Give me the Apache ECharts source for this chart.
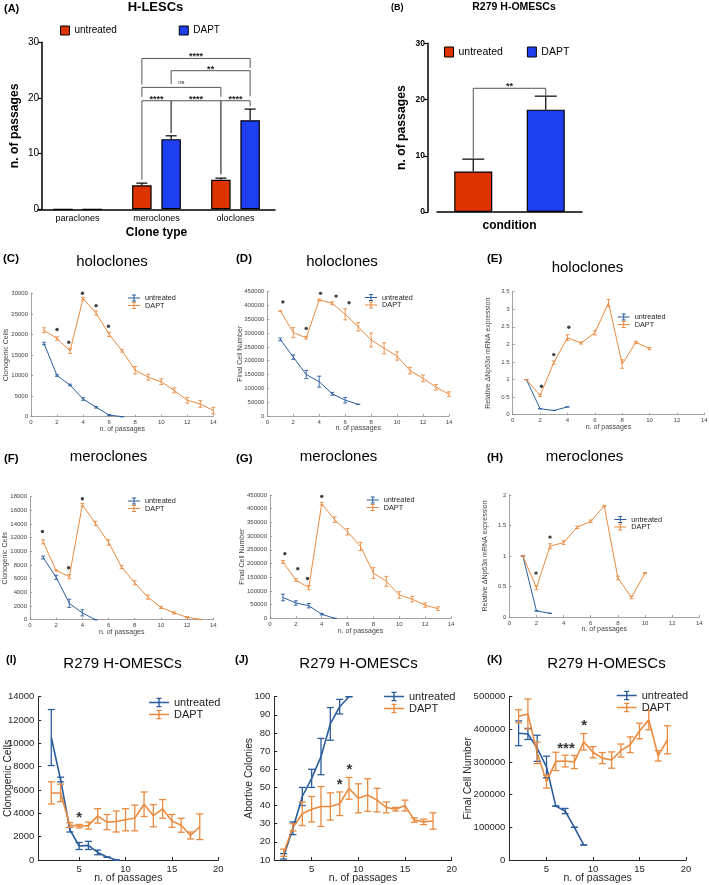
<!DOCTYPE html>
<html><head><meta charset="utf-8">
<script src="https://cdn.jsdelivr.net/npm/echarts@6/dist/echarts.min.js"></script>
<style>html,body{margin:0;padding:0;background:#fff}#c{width:709px;height:885px}</style>
</head><body><div id="c"></div>
<script>
// ================= DATA =================
// (A) H-LESCs
const A_categories = ['paraclones', 'meroclones', 'oloclones'];
const A_untreated = [0, 4.3, 5.3];
const A_untreated_err = [0, 0.4, 0.3];
const A_dapt = [0, 12.6, 16.0];
const A_dapt_err = [0, 0.6, 2.0];
// significance brackets: [category index, group (-1 untreated, +1 DAPT)]
const A_sig_from = [[1, -1], [1, 1], [1, -1], [1, -1], [1, 1], [2, -1]];
const A_sig_to = [[2, 1], [2, 1], [2, -1], [1, 1], [2, -1], [2, 1]];
const A_sig_level = [27.1, 24.9, 21.9, 19.5, 19.5, 19.5];
const A_sig_leg_from = [22.4, 22.5, 20.2, 5.3, 13.7, 6.3];
const A_sig_leg_to = [25.4, 20.3, 20.2, 13.7, 6.3, 18.5];
const A_sig_labels = ['****', '**', 'ns', '****', '****', '****'];

// (B) R279 H-OMESCs
const B_categories = ['untreated', 'DAPT'];
const B_values = [7.2, 18.2];
const B_err = [2.2, 2.4];
const B_sig_level = 22.0;
const B_sig_legs = [9.6, 20.7];
const B_sig_label = '**';

// (C) holoclones - clonogenic cells
const C_untreated_x = [1, 2, 3, 4, 5, 6, 7];
const C_untreated = [17800, 10000, 7700, 4300, 2300, 400, 0];
const C_untreated_err = [300, 200, 200, 300, 200, 100, 0];
const C_dapt_x = [1, 2, 3, 4, 5, 6, 7, 8, 9, 10, 11, 12, 13, 14];
const C_dapt = [21000, 19000, 16000, 28700, 25200, 20000, 16000, 11300, 9600, 8500, 6400, 4000, 3100, 1500];
const C_dapt_err = [600, 400, 600, 300, 500, 500, 300, 900, 700, 700, 600, 700, 800, 800];
const C_star_x = [2, 2.9, 3.95, 5, 5.95];
const C_star_y = [21200, 18100, 30000, 27000, 22000];

// (D) holoclones - final cell number
const D_untreated_x = [1, 2, 3, 4, 5, 6, 7];
const D_untreated = [277000, 213000, 150000, 124000, 80000, 57000, 42000];
const D_untreated_err = [5000, 8000, 15000, 20000, 5000, 10000, 0];
const D_dapt_x = [1, 2, 3, 4, 5, 6, 7, 8, 9, 10, 11, 12, 13, 14];
const D_dapt = [380000, 302000, 283000, 420000, 408000, 368000, 323000, 275000, 245000, 217000, 164000, 136000, 104000, 79000];
const D_dapt_err = [0, 18000, 5000, 3000, 5000, 20000, 15000, 25000, 20000, 15000, 12000, 12000, 10000, 8000];
const D_star_x = [1.2, 3, 4.1, 5.3, 6.3];
const D_star_y = [413000, 317000, 444000, 434000, 410000];

// (E) holoclones - relative dNp63a expression
const E_untreated_x = [1, 2, 3, 4];
const E_untreated = [1, 0.17, 0.12, 0.22];
const E_untreated_err = [0, 0, 0, 0];
const E_dapt_x = [1, 2, 3, 4, 5, 6, 7, 8, 9, 10];
const E_dapt = [1, 0.55, 1.48, 2.19, 2.04, 2.33, 3.18, 1.44, 2.06, 1.88];
const E_dapt_err = [0, 0.03, 0.05, 0.08, 0.03, 0.06, 0.1, 0.12, 0.03, 0.03];
const E_star_x = [2.1, 3.0, 4.1];
const E_star_y = [0.81, 1.71, 2.49];

// (F) meroclones - clonogenic cells
const F_untreated_x = [1, 2, 3, 4, 5];
const F_untreated = [9100, 6200, 2400, 1000, 0];
const F_untreated_err = [200, 300, 600, 450, 0];
const F_dapt_x = [1, 2, 3, 4, 5, 6, 7, 8, 9, 10, 11, 12, 13];
const F_dapt = [11400, 7200, 6300, 16800, 14100, 11300, 7700, 5400, 3300, 1800, 1000, 350, 50];
const F_dapt_err = [300, 100, 300, 200, 300, 400, 200, 300, 300, 150, 150, 100, 0];
const F_star_x = [0.95, 2.95, 4];
const F_star_y = [12900, 7600, 17700];

// (G) meroclones - final cell number
const G_untreated_x = [1, 2, 3, 4, 5];
const G_untreated = [76000, 56000, 46000, 15000, 0];
const G_untreated_err = [12000, 8000, 8000, 3000, 0];
const G_dapt_x = [1, 2, 3, 4, 5, 6, 7, 8, 9, 10, 11, 12, 13];
const G_dapt = [206000, 140000, 112000, 418000, 360000, 316000, 262000, 165000, 135000, 85000, 70000, 48000, 35000];
const G_dapt_err = [5000, 5000, 8000, 5000, 10000, 12000, 15000, 20000, 18000, 12000, 10000, 8000, 7000];
const G_star_x = [1.15, 2.15, 2.9, 4.0];
const G_star_y = [236000, 181000, 145000, 445000];

// (H) meroclones - relative dNp63a expression
const H_untreated_x = [1, 2, 3];
const H_untreated = [1, 0.1, 0.06];
const H_untreated_err = [0, 0, 0];
const H_dapt_x = [1, 2, 3, 4, 5, 6, 7, 8, 9, 10];
const H_dapt = [1, 0.48, 1.16, 1.22, 1.47, 1.57, 1.82, 0.64, 0.32, 0.72];
const H_dapt_err = [0, 0.03, 0.04, 0.03, 0.02, 0.02, 0.01, 0.03, 0.02, 0.01];
const H_star_x = [1.97, 3.0];
const H_star_y = [0.72, 1.31];

// (I) R279 H-OMESCs - clonogenic cells
const I_untreated_x = [2, 3, 4, 5, 6, 7, 8, 9];
const I_untreated = [10500, 6900, 2600, 1200, 1250, 650, 250, 0];
const I_untreated_err = [2400, 200, 200, 300, 350, 200, 0, 0];
const I_dapt_x = [2, 3, 4, 5, 6, 7, 8, 9, 10, 11, 12, 13, 14, 15, 16, 17, 18];
const I_dapt = [5750, 5750, 3000, 2900, 2950, 3780, 3250, 3300, 3450, 3600, 4780, 3800, 4380, 3350, 2980, 2100, 2850];
const I_dapt_err = [950, 750, 200, 150, 300, 620, 650, 900, 950, 1100, 1050, 950, 800, 550, 600, 300, 1100];
const I_star_x = [5];
const I_star_y = [3940];
const I_star_text = ['*'];

// (J) R279 H-OMESCs - abortive colonies
const J_untreated_x = [2, 3, 4, 5, 6, 7, 8, 9];
const J_untreated = [12, 27.5, 45, 55, 67, 85, 94.5, 100];
const J_untreated_err = [1.5, 3.5, 5, 5, 10, 9, 4, 0];
const J_dapt_x = [2, 3, 4, 5, 6, 7, 8, 9, 10, 11, 12, 13, 14, 15, 16, 17, 18];
const J_dapt = [14, 28, 35.5, 38, 39.5, 39.5, 41, 49.5, 44, 45.8, 43, 39, 38, 40, 32, 31, 31.5];
const J_dapt_err = [2, 2, 6.5, 7, 11, 7.5, 6.5, 6, 8, 9, 6.5, 3, 1, 3, 1.2, 1.5, 4.5];
const J_star_x = [8, 9.05];
const J_star_y = [53.5, 61.8];
const J_star_text = ['*', '*'];

// (K) R279 H-OMESCs - final cell number
const K_untreated_x = [2, 3, 4, 5, 6, 7, 8, 9];
const K_untreated = [388000, 386000, 342000, 285000, 165000, 150000, 100000, 46000];
const K_untreated_err = [38000, 17000, 40000, 33000, 0, 8000, 0, 0];
const K_dapt_x = [2, 3, 4, 5, 6, 7, 8, 9, 10, 11, 12, 13, 14, 15, 16, 17, 18];
const K_dapt = [440000, 447000, 328000, 240000, 302000, 303000, 300000, 362000, 330000, 312000, 306000, 335000, 353000, 395000, 429000, 319000, 368000];
const K_dapt_err = [20000, 46000, 33000, 20000, 28000, 18000, 20000, 25000, 17000, 17000, 25000, 20000, 24000, 24000, 30000, 16000, 43000];
const K_star_x = [7.1, 9.05];
const K_star_y = [352000, 423000];
const K_star_text = ['***', '*'];

const passageTicks = [5, 10, 15, 20];

// ================= STYLE =================
const FONT = '"Liberation Sans", Arial, Helvetica, sans-serif';
const BAR_RED = '#dd3300', BAR_BLUE = '#1d3ff0';
const L_BLUE = '#2b5d9c', L_ORANGE = '#ea8a3f';
const ICON_S = 'path://M0,3h12v1h-12z M5.5,0h1v7h-1z M4,0h4v1h-4z M4,6h4v1h-4z';
const ICON_L = 'path://M0,4h20v1.4h-20z M9.3,0h1.4v9.4h-1.4z M7.5,0h5v1.2h-5z M7.5,8.2h5v1.2h-5z';
const plainNum = v => String(Math.round(v * 1000) / 1000);

const grid = [], xAxis = [], yAxis = [], series = [], legend = [], title = [];

function T(text, x, y, size, weight, align) {
  title.push({ text, left: x, top: y, padding: 0, textAlign: align || 'left',
    textStyle: { fontFamily: FONT, fontSize: size, fontWeight: weight || 'normal', color: '#000' } });
}

// error bar renderer for line panels
function errRender(cap, lw) {
  return function (params, api) {
    const x = api.value(0), y = api.value(1), e = api.value(2);
    const lo = api.coord([x, y - e]), hi = api.coord([x, y + e]);
    const st = { stroke: api.visual('color'), lineWidth: lw };
    return { type: 'group', children: [
      { type: 'line', shape: { x1: lo[0], y1: lo[1], x2: hi[0], y2: hi[1] }, style: st },
      { type: 'line', shape: { x1: lo[0] - cap, y1: lo[1], x2: lo[0] + cap, y2: lo[1] }, style: st },
      { type: 'line', shape: { x1: hi[0] - cap, y1: hi[1], x2: hi[0] + cap, y2: hi[1] }, style: st }
    ] };
  };
}
// upward error bar for bar charts (offset = horizontal shift of the bar within its category)
function barErrRender(offsetPx, cap) {
  return function (params, api) {
    const c = api.value(0), v = api.value(1), e = api.value(2);
    if (!v) return null;
    const p0 = api.coord([c, v]), p1 = api.coord([c, v + e]);
    const x = p0[0] + offsetPx;
    const st = { stroke: '#000', lineWidth: 1.2 };
    return { type: 'group', children: [
      { type: 'line', shape: { x1: x, y1: p0[1], x2: x, y2: p1[1] }, style: st },
      { type: 'line', shape: { x1: x - cap, y1: p1[1], x2: x + cap, y2: p1[1] }, style: st }
    ] };
  };
}
function bracketRender(labels, offsetPx) {
  return function (params, api) {
    const lc = api.value(0), ls = api.value(1), rc = api.value(2), rs = api.value(3);
    const lvl = api.value(4), lb = api.value(5), rb = api.value(6);
    const pl = api.coord([lc, lvl]), pr = api.coord([rc, lvl]);
    const xl = pl[0] + ls * offsetPx, xr = pr[0] + rs * offsetPx;
    const yl = api.coord([lc, lb])[1], yr = api.coord([rc, rb])[1], yt = pl[1];
    const lab = labels[params.dataIndex];
    const ns = lab === 'ns';
    return { type: 'group', children: [
      { type: 'polyline', shape: { points: [[xl, yl], [xl, yt], [xr, yt], [xr, yr]] },
        style: { stroke: '#555', lineWidth: 1, fill: null } },
      { type: 'text', style: { text: lab, x: (xl + xr) / 2, y: yt + (ns ? -2 : 3),
        align: 'center', verticalAlign: 'bottom', textAlign: 'center', textVerticalAlign: 'bottom',
        font: ns ? '6px ' + FONT : 'bold 9px ' + FONT, fill: '#222' } }
    ] };
  };
}

// ================= PANEL A =================
T('(A)', 4, 3, 11, 'bold');
T('H-LESCs', 155.5, 0.5, 13, 'bold', 'center');
grid.push({ left: 38, top: 42.3, width: 237, height: 167, outerBoundsMode: 'none' });
xAxis.push({ type: 'category', gridIndex: 0, data: A_categories,
  axisLine: { lineStyle: { color: '#000', width: 1.5 } },
  axisTick: { alignWithLabel: true, length: 4, lineStyle: { color: '#000', width: 1.2 } },
  axisLabel: { fontSize: 9, color: '#000', margin: 5, fontFamily: FONT },
  name: 'Clone type', nameLocation: 'middle', nameGap: 17, nameMoveOverlap: false,
  nameTextStyle: { fontSize: 12, fontWeight: 'bold', color: '#000', fontFamily: FONT } });
yAxis.push({ type: 'value', gridIndex: 0, min: 0, max: 30, interval: 10, offset: -4,
  axisLine: { show: true, lineStyle: { color: '#000', width: 1.5 } },
  axisTick: { show: true, length: 4, lineStyle: { color: '#000', width: 1.2 } },
  axisLabel: { fontSize: 10, color: '#000', margin: 3, fontFamily: FONT, formatter: plainNum },
  splitLine: { show: false },
  name: 'n. of passages', nameLocation: 'middle', nameGap: 21, nameMoveOverlap: false,
  nameTextStyle: { fontSize: 12.2, fontWeight: 'bold', color: '#000', fontFamily: FONT } });
const A_off = 14.625; // half of (bar width + gap)
series.push({ type: 'bar', name: 'untreated', xAxisIndex: 0, yAxisIndex: 0, data: A_untreated, barWidth: 19.5, barGap: '50%',
  itemStyle: { color: BAR_RED, borderColor: '#000', borderWidth: 1.2 } });
series.push({ type: 'bar', name: 'DAPT', xAxisIndex: 0, yAxisIndex: 0, data: A_dapt, barWidth: 19.5, barGap: '50%',
  itemStyle: { color: BAR_BLUE, borderColor: '#000', borderWidth: 1.2 } });
series.push({ type: 'custom', xAxisIndex: 0, yAxisIndex: 0, renderItem: barErrRender(-A_off, 5.5), encode: { x: 0, y: 1 },
  data: A_untreated.map((v, i) => [i, v, A_untreated_err[i]]), z: 5, silent: true });
series.push({ type: 'custom', xAxisIndex: 0, yAxisIndex: 0, renderItem: barErrRender(A_off, 5.5), encode: { x: 0, y: 1 },
  data: A_dapt.map((v, i) => [i, v, A_dapt_err[i]]), z: 5, silent: true });
series.push({ type: 'custom', xAxisIndex: 0, yAxisIndex: 0, renderItem: bracketRender(A_sig_labels, A_off), encode: { x: 0, y: 4 },
  data: A_sig_level.map((lv, i) => [A_sig_from[i][0], A_sig_from[i][1], A_sig_to[i][0], A_sig_to[i][1], lv, A_sig_leg_from[i], A_sig_leg_to[i]]),
  z: 6, silent: true });
legend.push({ left: 60, top: 25.5, orient: 'horizontal', itemWidth: 9, itemHeight: 9, itemGap: 62, padding: 0, selectedMode: false,
  textStyle: { fontFamily: FONT, fontSize: 10, color: '#000' },
  data: [{ name: 'untreated', icon: 'rect', itemStyle: { color: BAR_RED, borderColor: '#000', borderWidth: 1 } },
         { name: 'DAPT', icon: 'rect', itemStyle: { color: BAR_BLUE, borderColor: '#000', borderWidth: 1 } }] });

// ================= PANEL B =================
T('(B)', 391, 3.5, 9, 'bold');
T('R279 H-OMESCs', 514, 2, 10.5, 'bold', 'center');
grid.push({ left: 437, top: 43.3, width: 145, height: 168.7, outerBoundsMode: 'none' });
xAxis.push({ type: 'category', gridIndex: 1, data: B_categories,
  axisLine: { lineStyle: { color: '#000', width: 1.5 } }, axisTick: { show: false }, axisLabel: { show: false },
  name: 'condition', nameLocation: 'middle', nameGap: 8, nameMoveOverlap: false,
  nameTextStyle: { fontSize: 12, fontWeight: 'bold', color: '#000', fontFamily: FONT } });
yAxis.push({ type: 'value', gridIndex: 1, min: 0, max: 30, interval: 10, offset: 9,
  axisLine: { show: true, lineStyle: { color: '#000', width: 1.5 } },
  axisTick: { show: true, length: 4, lineStyle: { color: '#000', width: 1.2 } },
  axisLabel: { fontSize: 8.5, fontWeight: 'bold', color: '#000', margin: 3, fontFamily: FONT, formatter: plainNum },
  splitLine: { show: false },
  name: 'n. of passages', nameLocation: 'middle', nameGap: 20, nameMoveOverlap: false,
  nameTextStyle: { fontSize: 12.2, fontWeight: 'bold', color: '#000', fontFamily: FONT } });
series.push({ type: 'bar', name: 'untreated', xAxisIndex: 1, yAxisIndex: 1, data: [B_values[0], '-'], barWidth: 38, barGap: '-100%',
  itemStyle: { color: BAR_RED, borderColor: '#000', borderWidth: 1.2 } });
series.push({ type: 'bar', name: 'DAPT', xAxisIndex: 1, yAxisIndex: 1, data: ['-', B_values[1]], barWidth: 38, barGap: '-100%',
  itemStyle: { color: BAR_BLUE, borderColor: '#000', borderWidth: 1.2 } });
series.push({ type: 'custom', xAxisIndex: 1, yAxisIndex: 1, renderItem: barErrRender(0, 11), encode: { x: 0, y: 1 },
  data: B_values.map((v, i) => [i, v, B_err[i]]), z: 5, silent: true });
series.push({ type: 'custom', xAxisIndex: 1, yAxisIndex: 1, renderItem: bracketRender([B_sig_label], 0), encode: { x: 0, y: 4 },
  data: [[0, 0, 1, 0, B_sig_level, B_sig_legs[0], B_sig_legs[1]]], z: 6, silent: true });
legend.push({ left: 444, top: 46.5, orient: 'horizontal', itemWidth: 9, itemHeight: 10, itemGap: 24, padding: 0, selectedMode: false,
  textStyle: { fontFamily: FONT, fontSize: 10.5, color: '#000' },
  data: [{ name: 'untreated', icon: 'rect', itemStyle: { color: BAR_RED, borderColor: '#000', borderWidth: 1 } },
         { name: 'DAPT', icon: 'rect', itemStyle: { color: BAR_BLUE, borderColor: '#000', borderWidth: 1 } }] });

// ================= LINE PANELS =================
function linePanel(c) {
  const gi = grid.length;
  const big = !!c.big;
  grid.push({ left: c.left, top: c.top, width: c.width, height: c.height, outerBoundsMode: 'none' });
  const axCol = big ? '#262626' : '#8c8c8c';
  const lbCol = big ? '#262626' : '#444';
  const lbSize = big ? 9.5 : 6;
  const xa = { type: 'value', gridIndex: gi, min: c.xMin, max: c.xMax,
    axisLine: { onZero: false, lineStyle: { color: axCol, width: big ? 1 : 0.8 } },
    axisTick: { show: true, inside: true, length: big ? 3 : 2, lineStyle: { color: axCol, width: big ? 1 : 0.8 } },
    axisLabel: { fontSize: lbSize, color: lbCol, margin: big ? 4 : 3, fontFamily: FONT, formatter: plainNum },
    splitLine: { show: false },
    name: 'n. of passages', nameLocation: 'middle', nameGap: big ? 13 : 9, nameMoveOverlap: false,
    nameTextStyle: { fontSize: big ? 10.5 : 7, color: lbCol, fontFamily: FONT } };
  if (c.xInterval) xa.interval = c.xInterval;
  if (c.xTicks) { xa.axisLabel.customValues = c.xTicks; xa.axisTick.customValues = c.xTicks; }
  xAxis.push(xa);
  yAxis.push({ type: 'value', gridIndex: gi, min: c.yMin, max: c.yMax, interval: c.yInterval,
    axisLine: { show: true, onZero: false, lineStyle: { color: axCol, width: big ? 1 : 0.8 } },
    axisTick: { show: true, inside: true, length: big ? 3 : 2, lineStyle: { color: axCol, width: big ? 1 : 0.8 } },
    axisLabel: { fontSize: lbSize, color: lbCol, margin: big ? 4 : 3, fontFamily: FONT, formatter: plainNum },
    splitLine: { show: false },
    name: c.yName, nameLocation: 'middle', nameGap: c.yGap, nameMoveOverlap: false,
    nameTextStyle: { fontSize: big ? 10.3 : 7, color: lbCol, fontFamily: FONT } });
  const lw = big ? 1.6 : 1;
  const cap = big ? 3.5 : 2;
  [[c.ux, c.u, c.ue, 'untreated', L_BLUE], [c.dx, c.d, c.de, 'DAPT', L_ORANGE]].forEach(s => {
    series.push({ type: 'line', name: s[3], xAxisIndex: gi, yAxisIndex: gi, data: s[0].map((x, i) => [x, s[1][i]]),
      symbol: 'none', lineStyle: { color: s[4], width: lw }, itemStyle: { color: s[4] }, z: 2, silent: true });
    series.push({ type: 'custom', xAxisIndex: gi, yAxisIndex: gi, renderItem: errRender(cap, big ? 1.3 : 0.9),
      itemStyle: { color: s[4] }, encode: { x: 0, y: 1 }, data: s[0].map((x, i) => [x, s[1][i], s[2][i]]), z: 3, silent: true });
  });
  if (big) {
    series.push({ type: 'scatter', xAxisIndex: gi, yAxisIndex: gi, symbolSize: 1, itemStyle: { color: 'rgba(0,0,0,0)' },
      data: c.sx.map((x, i) => ({ name: c.st[i], value: [x, c.sy[i]] })), z: 4, silent: true,
      label: { show: true, position: 'inside', formatter: '{b}', fontSize: 15, fontWeight: 'bold', color: '#000', fontFamily: FONT, offset: [0, 4] } });
  } else {
    series.push({ type: 'scatter', xAxisIndex: gi, yAxisIndex: gi, symbol: 'circle', symbolSize: 3.4,
      itemStyle: { color: '#111' }, data: c.sx.map((x, i) => [x, c.sy[i]]), z: 4, silent: true });
  }
  const icon = big ? ICON_L : ICON_S;
  legend.push({ left: c.lgLeft, top: c.lgTop, orient: 'vertical', itemWidth: big ? 20 : 12, itemHeight: big ? 9.4 : 7,
    itemGap: big ? 1 : 0.5, padding: 0, selectedMode: false,
    textStyle: { fontFamily: FONT, fontSize: big ? 11 : 7.3, color: '#222' },
    data: [{ name: 'untreated', icon, itemStyle: { color: L_BLUE, borderWidth: 0 } },
           { name: 'DAPT', icon, itemStyle: { color: L_ORANGE, borderWidth: 0 } }] });
}

const P63 = 'Relative \u0394Np63\u03b1 mRNA expression';
T('(C)', 3, 253, 11.5, 'bold'); T('holoclones', 112, 254, 15, 'normal', 'center');
linePanel({ left: 31, top: 293.3, width: 182.3, height: 123.4, xMin: 0, xMax: 14, xInterval: 2, yMin: 0, yMax: 30000, yInterval: 5000,
  yName: 'Clonogenic Cells', yGap: 21, ux: C_untreated_x, u: C_untreated, ue: C_untreated_err, dx: C_dapt_x, d: C_dapt, de: C_dapt_err,
  sx: C_star_x, sy: C_star_y, lgLeft: 128, lgTop: 294.5 });
T('(D)', 236, 253, 11.5, 'bold'); T('holoclones', 342, 254, 15, 'normal', 'center');
linePanel({ left: 267.3, top: 291.7, width: 181.7, height: 124.2, xMin: 0, xMax: 14, xInterval: 2, yMin: 0, yMax: 450000, yInterval: 50000,
  yName: 'Final Cell Number', yGap: 24, ux: D_untreated_x, u: D_untreated, ue: D_untreated_err, dx: D_dapt_x, d: D_dapt, de: D_dapt_err,
  sx: D_star_x, sy: D_star_y, lgLeft: 365, lgTop: 294 });
T('(E)', 487, 253, 11.5, 'bold'); T('holoclones', 587.5, 260, 15, 'normal', 'center');
linePanel({ left: 512.7, top: 291.7, width: 191.6, height: 123, xMin: 0, xMax: 14, xInterval: 2, yMin: 0, yMax: 3.5, yInterval: 0.5,
  yName: P63, yGap: 21, ux: E_untreated_x, u: E_untreated, ue: E_untreated_err, dx: E_dapt_x, d: E_dapt, de: E_dapt_err,
  sx: E_star_x, sy: E_star_y, lgLeft: 617.7, lgTop: 313.5 });
T('(F)', 4, 453, 11.5, 'bold'); T('meroclones', 108.5, 449.5, 15, 'normal', 'center');
linePanel({ left: 30, top: 496.7, width: 183.3, height: 123, xMin: 0, xMax: 14, xInterval: 2, yMin: 0, yMax: 18000, yInterval: 2000,
  yName: 'Clonogenic Cells', yGap: 21, ux: F_untreated_x, u: F_untreated, ue: F_untreated_err, dx: F_dapt_x, d: F_dapt, de: F_dapt_err,
  sx: F_star_x, sy: F_star_y, lgLeft: 128, lgTop: 497.5 });
T('(G)', 236, 453, 11.5, 'bold'); T('meroclones', 338.5, 449.5, 15, 'normal', 'center');
linePanel({ left: 270, top: 495, width: 181, height: 123.3, xMin: 0, xMax: 14, xInterval: 2, yMin: 0, yMax: 450000, yInterval: 50000,
  yName: 'Final Cell Number', yGap: 24, ux: G_untreated_x, u: G_untreated, ue: G_untreated_err, dx: G_dapt_x, d: G_dapt, de: G_dapt_err,
  sx: G_star_x, sy: G_star_y, lgLeft: 366.7, lgTop: 496.5 });
T('(H)', 487, 452, 11.5, 'bold'); T('meroclones', 584.5, 449.5, 15, 'normal', 'center');
linePanel({ left: 509.3, top: 495, width: 190, height: 122, xMin: 0, xMax: 14, xInterval: 2, yMin: 0, yMax: 2, yInterval: 0.5,
  yName: P63, yGap: 21, ux: H_untreated_x, u: H_untreated, ue: H_untreated_err, dx: H_dapt_x, d: H_dapt, de: H_dapt_err,
  sx: H_star_x, sy: H_star_y, lgLeft: 614.3, lgTop: 516 });

T('(I)', 6, 654, 11, 'bold'); T('R279 H-OMESCs', 122.5, 656, 15, 'normal', 'center');
linePanel({ big: true, left: 38.3, top: 696.7, width: 180, height: 163.3, xMin: 0.6, xMax: 20, xTicks: passageTicks,
  yMin: 0, yMax: 14000, yInterval: 2000, yName: 'Clonogenic Cells', yGap: 25,
  ux: I_untreated_x, u: I_untreated, ue: I_untreated_err, dx: I_dapt_x, d: I_dapt, de: I_dapt_err,
  sx: I_star_x, sy: I_star_y, st: I_star_text, lgLeft: 149, lgTop: 697 });
T('(J)', 235, 654, 11, 'bold'); T('R279 H-OMESCs', 358.5, 656, 15, 'normal', 'center');
linePanel({ big: true, left: 274.3, top: 696.7, width: 177.4, height: 163.3, xMin: 1, xMax: 20, xTicks: passageTicks,
  yMin: 10, yMax: 100, yInterval: 10, yName: 'Abortive Colonies', yGap: 20,
  ux: J_untreated_x, u: J_untreated, ue: J_untreated_err, dx: J_dapt_x, d: J_dapt, de: J_dapt_err,
  sx: J_star_x, sy: J_star_y, st: J_star_text, lgLeft: 384, lgTop: 691 });
T('(K)', 487, 654, 11, 'bold'); T('R279 H-OMESCs', 606.5, 656, 15, 'normal', 'center');
linePanel({ big: true, left: 509.3, top: 696.7, width: 176.7, height: 163.3, xMin: 1, xMax: 20, xTicks: passageTicks,
  yMin: 0, yMax: 500000, yInterval: 100000, yName: 'Final Cell Number', yGap: 36,
  ux: K_untreated_x, u: K_untreated, ue: K_untreated_err, dx: K_dapt_x, d: K_dapt, de: K_dapt_err,
  sx: K_star_x, sy: K_star_y, st: K_star_text, lgLeft: 616.7, lgTop: 690 });

const chart = echarts.init(document.getElementById('c'), null, { renderer: 'canvas' });
chart.setOption({ backgroundColor: '#fff', animation: false, textStyle: { fontFamily: FONT },
  title, grid, xAxis, yAxis, series, legend, tooltip: { show: false } });
</script></body></html>
